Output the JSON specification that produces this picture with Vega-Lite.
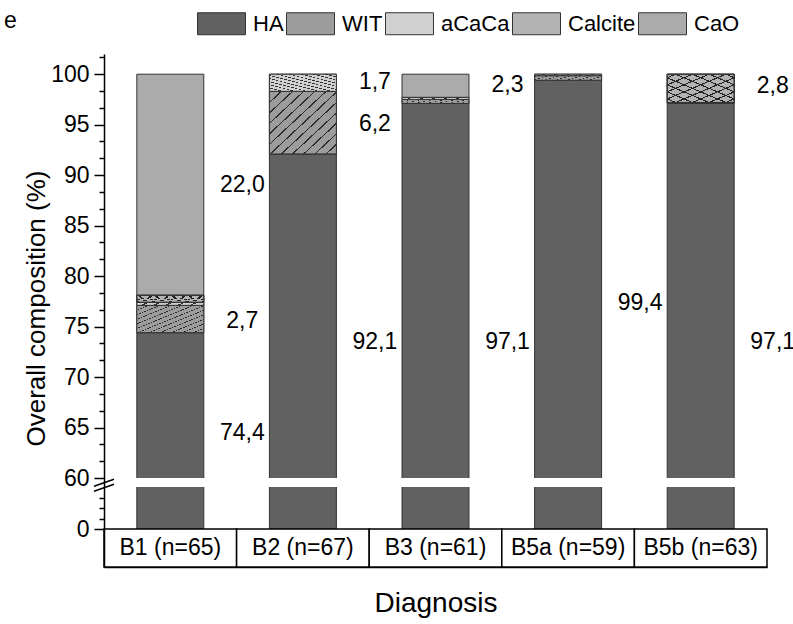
{
  "$schema": "https://vega.github.io/schema/vega-lite/v6.json",
  "width": 663,
  "height": 513,
  "autosize": {"type": "none"},
  "padding": {"left": 104, "top": 54, "right": 26, "bottom": 57},
  "title": {"text": "e", "anchor": "start", "frame": "group", "fontSize": 23, "fontWeight": "normal", "font": "Liberation Sans", "color": "black", "dx": -100, "dy": 34, "offset": 0},
  "config": {
    "font": "Liberation Sans",
    "view": {"stroke": null},
    "axis": {"grid": false, "labelOverlap": false, "labelFont": "Liberation Sans", "titleFont": "Liberation Sans", "labelColor": "black", "titleColor": "black", "domainColor": "black", "tickColor": "black"}
  },
  "datasets": {
    "comp": [
      {"Diagnosis": "B1 (n=65)", "phase": "HA", "k": 1, "value": 74.4},
      {"Diagnosis": "B1 (n=65)", "phase": "WIT", "k": 2, "value": 2.7},
      {"Diagnosis": "B1 (n=65)", "phase": "aCaCa", "k": 3, "value": 0.3},
      {"Diagnosis": "B1 (n=65)", "phase": "Calcite", "k": 4, "value": 0.7},
      {"Diagnosis": "B1 (n=65)", "phase": "CaO", "k": 5, "value": 21.9},
      {"Diagnosis": "B2 (n=67)", "phase": "HA", "k": 1, "value": 92.1},
      {"Diagnosis": "B2 (n=67)", "phase": "WIT", "k": 2, "value": 6.2},
      {"Diagnosis": "B2 (n=67)", "phase": "aCaCa", "k": 3, "value": 1.7},
      {"Diagnosis": "B3 (n=61)", "phase": "HA", "k": 1, "value": 97.1},
      {"Diagnosis": "B3 (n=61)", "phase": "WIT", "k": 2, "value": 0.4},
      {"Diagnosis": "B3 (n=61)", "phase": "aCaCa", "k": 3, "value": 0.2},
      {"Diagnosis": "B3 (n=61)", "phase": "CaO", "k": 5, "value": 2.3},
      {"Diagnosis": "B5a (n=59)", "phase": "HA", "k": 1, "value": 99.4},
      {"Diagnosis": "B5a (n=59)", "phase": "WIT", "k": 2, "value": 0.45},
      {"Diagnosis": "B5a (n=59)", "phase": "aCaCa", "k": 3, "value": 0.15},
      {"Diagnosis": "B5b (n=63)", "phase": "HA", "k": 1, "value": 97.1},
      {"Diagnosis": "B5b (n=63)", "phase": "WIT", "k": 2, "value": 0.1},
      {"Diagnosis": "B5b (n=63)", "phase": "Calcite", "k": 4, "value": 2.8}
    ],
    "labels": [
      {"Diagnosis": "B1 (n=65)", "label": "74,4", "ly": 64.5},
      {"Diagnosis": "B1 (n=65)", "label": "2,7", "ly": 75.6},
      {"Diagnosis": "B1 (n=65)", "label": "22,0", "ly": 89.0},
      {"Diagnosis": "B2 (n=67)", "label": "92,1", "ly": 73.5},
      {"Diagnosis": "B2 (n=67)", "label": "6,2", "ly": 95.1},
      {"Diagnosis": "B2 (n=67)", "label": "1,7", "ly": 99.2},
      {"Diagnosis": "B3 (n=61)", "label": "97,1", "ly": 73.5},
      {"Diagnosis": "B3 (n=61)", "label": "2,3", "ly": 98.9},
      {"Diagnosis": "B5a (n=59)", "label": "99,4", "ly": 77.3},
      {"Diagnosis": "B5b (n=63)", "label": "97,1", "ly": 73.5},
      {"Diagnosis": "B5b (n=63)", "label": "2,8", "ly": 98.8}
    ],
    "cats": [
      {"Diagnosis": "B1 (n=65)"},
      {"Diagnosis": "B2 (n=67)"},
      {"Diagnosis": "B3 (n=61)"},
      {"Diagnosis": "B5a (n=59)"},
      {"Diagnosis": "B5b (n=63)"}
    ]
  },
  "layer": [
    {
      "data": {"name": "comp"},
      "mark": {"type": "bar", "width": {"band": 0.505}, "stroke": "#333333", "strokeWidth": 1},
      "encoding": {
        "x": {
          "field": "Diagnosis", "type": "nominal", "sort": null,
          "scale": {"paddingInner": 0, "paddingOuter": 0},
          "axis": {"title": "Diagnosis", "labels": false, "ticks": false, "domainWidth": 1.5, "titleFontSize": 28, "titleFontWeight": "normal", "titlePadding": 22}
        },
        "y": {
          "field": "value", "type": "quantitative", "stack": "zero",
          "scale": {"domain": [-10, 0, 40, 60, 102], "range": [513, 475, 433, 424, 0], "nice": false, "zero": false},
          "axis": {
            "title": "Overall composition (%)",
            "titleFontSize": 26, "titleFontWeight": "normal", "titlePadding": 1, "titleY": 254,
            "tickCount": 100,
            "values": [0, 10, 20, 30, 60, 61.667, 63.333, 65, 66.667, 68.333, 70, 71.667, 73.333, 75, 76.667, 78.333, 80, 81.667, 83.333, 85, 86.667, 88.333, 90, 91.667, 93.333, 95, 96.667, 98.333, 100, 101.667],
            "labelExpr": "(datum.value === 0 || datum.value >= 60) && abs(datum.value/5 - round(datum.value/5)) < 0.01 ? format(datum.value, 'd') : ''",
            "labelOverlap": false,
            "tickSize": {"condition": {"test": "(datum.value === 0 || datum.value >= 60) && abs(datum.value/5 - round(datum.value/5)) < 0.01", "value": 10}, "value": 5},
            "labelFontSize": 23, "labelPadding": 5, "domainWidth": 1.5, "tickWidth": 1.5, "zindex": 1
          }
        },
        "color": {
          "field": "phase", "type": "nominal",
          "scale": {"domain": ["HA", "WIT", "aCaCa", "Calcite", "CaO"], "range": ["#616161", "#9c9c9c", "#d0d0d0", "#b3b3b3", "#ababab"]},
          "legend": {
            "orient": "none", "legendX": 93, "legendY": -55, "direction": "horizontal", "title": null,
            "symbolType": "M-1,-0.458H1V0.458H-1Z", "symbolSize": 2304, "symbolStrokeColor": "#333333", "symbolStrokeWidth": 1, "symbolOpacity": 1,
            "labelFontSize": 22, "labelFont": "Liberation Sans", "labelColor": "black", "labelOffset": 7, "columnPadding": 0
          }
        },
        "order": {"field": "k", "type": "quantitative"}
      }
    },
    {
      "data": {"name": "comp"},
      "transform": [
        {"stack": "value", "groupby": ["Diagnosis"], "sort": [{"field": "k", "order": "ascending"}], "as": ["y0", "y1"]},
        {"filter": "datum.phase === 'WIT'"}
      ],
      "mark": {"type": "bar", "width": {"band": 0.505}, "stroke": "#333333", "strokeWidth": 1,
        "fill": {"gradient": "linear", "x1": 0, "y1": 0, "x2": 1, "y2": 1, "stops": [
          {"offset": 0, "color": "#2a2a2a"}, {"offset": 0.012, "color": "#2a2a2a"}, {"offset": 0.012, "color": "#9c9c9c"}, {"offset": 0.0833, "color": "#9c9c9c"},
          {"offset": 0.0833, "color": "#2a2a2a"}, {"offset": 0.0953, "color": "#2a2a2a"}, {"offset": 0.0953, "color": "#9c9c9c"}, {"offset": 0.1667, "color": "#9c9c9c"},
          {"offset": 0.1667, "color": "#2a2a2a"}, {"offset": 0.1787, "color": "#2a2a2a"}, {"offset": 0.1787, "color": "#9c9c9c"}, {"offset": 0.25, "color": "#9c9c9c"},
          {"offset": 0.25, "color": "#2a2a2a"}, {"offset": 0.262, "color": "#2a2a2a"}, {"offset": 0.262, "color": "#9c9c9c"}, {"offset": 0.3333, "color": "#9c9c9c"},
          {"offset": 0.3333, "color": "#2a2a2a"}, {"offset": 0.3453, "color": "#2a2a2a"}, {"offset": 0.3453, "color": "#9c9c9c"}, {"offset": 0.4167, "color": "#9c9c9c"},
          {"offset": 0.4167, "color": "#2a2a2a"}, {"offset": 0.4287, "color": "#2a2a2a"}, {"offset": 0.4287, "color": "#9c9c9c"}, {"offset": 0.5, "color": "#9c9c9c"},
          {"offset": 0.5, "color": "#2a2a2a"}, {"offset": 0.512, "color": "#2a2a2a"}, {"offset": 0.512, "color": "#9c9c9c"}, {"offset": 0.5833, "color": "#9c9c9c"},
          {"offset": 0.5833, "color": "#2a2a2a"}, {"offset": 0.5953, "color": "#2a2a2a"}, {"offset": 0.5953, "color": "#9c9c9c"}, {"offset": 0.6667, "color": "#9c9c9c"},
          {"offset": 0.6667, "color": "#2a2a2a"}, {"offset": 0.6787, "color": "#2a2a2a"}, {"offset": 0.6787, "color": "#9c9c9c"}, {"offset": 0.75, "color": "#9c9c9c"},
          {"offset": 0.75, "color": "#2a2a2a"}, {"offset": 0.762, "color": "#2a2a2a"}, {"offset": 0.762, "color": "#9c9c9c"}, {"offset": 0.8333, "color": "#9c9c9c"},
          {"offset": 0.8333, "color": "#2a2a2a"}, {"offset": 0.8453, "color": "#2a2a2a"}, {"offset": 0.8453, "color": "#9c9c9c"}, {"offset": 0.9167, "color": "#9c9c9c"},
          {"offset": 0.9167, "color": "#2a2a2a"}, {"offset": 0.9287, "color": "#2a2a2a"}, {"offset": 0.9287, "color": "#9c9c9c"}, {"offset": 1, "color": "#9c9c9c"}
        ]}},
      "encoding": {
        "x": {"field": "Diagnosis", "type": "nominal", "sort": null},
        "y": {"field": "y0", "type": "quantitative"},
        "y2": {"field": "y1"}
      }
    },
    {
      "data": {"name": "comp"},
      "transform": [
        {"stack": "value", "groupby": ["Diagnosis"], "sort": [{"field": "k", "order": "ascending"}], "as": ["y0", "y1"]},
        {"filter": "datum.phase === 'aCaCa'"}
      ],
      "mark": {"type": "bar", "width": {"band": 0.505}, "stroke": "#333333", "strokeWidth": 1,
        "fill": {"gradient": "linear", "x1": 0, "y1": 1, "x2": 1, "y2": 0, "stops": [
          {"offset": 0, "color": "#333333"}, {"offset": 0.02, "color": "#333333"}, {"offset": 0.02, "color": "#d0d0d0"}, {"offset": 0.0909, "color": "#d0d0d0"},
          {"offset": 0.0909, "color": "#333333"}, {"offset": 0.1109, "color": "#333333"}, {"offset": 0.1109, "color": "#d0d0d0"}, {"offset": 0.1818, "color": "#d0d0d0"},
          {"offset": 0.1818, "color": "#333333"}, {"offset": 0.2018, "color": "#333333"}, {"offset": 0.2018, "color": "#d0d0d0"}, {"offset": 0.2727, "color": "#d0d0d0"},
          {"offset": 0.2727, "color": "#333333"}, {"offset": 0.2927, "color": "#333333"}, {"offset": 0.2927, "color": "#d0d0d0"}, {"offset": 0.3636, "color": "#d0d0d0"},
          {"offset": 0.3636, "color": "#333333"}, {"offset": 0.3836, "color": "#333333"}, {"offset": 0.3836, "color": "#d0d0d0"}, {"offset": 0.4545, "color": "#d0d0d0"},
          {"offset": 0.4545, "color": "#333333"}, {"offset": 0.4745, "color": "#333333"}, {"offset": 0.4745, "color": "#d0d0d0"}, {"offset": 0.5455, "color": "#d0d0d0"},
          {"offset": 0.5455, "color": "#333333"}, {"offset": 0.5655, "color": "#333333"}, {"offset": 0.5655, "color": "#d0d0d0"}, {"offset": 0.6364, "color": "#d0d0d0"},
          {"offset": 0.6364, "color": "#333333"}, {"offset": 0.6564, "color": "#333333"}, {"offset": 0.6564, "color": "#d0d0d0"}, {"offset": 0.7273, "color": "#d0d0d0"},
          {"offset": 0.7273, "color": "#333333"}, {"offset": 0.7473, "color": "#333333"}, {"offset": 0.7473, "color": "#d0d0d0"}, {"offset": 0.8182, "color": "#d0d0d0"},
          {"offset": 0.8182, "color": "#333333"}, {"offset": 0.8382, "color": "#333333"}, {"offset": 0.8382, "color": "#d0d0d0"}, {"offset": 0.9091, "color": "#d0d0d0"},
          {"offset": 0.9091, "color": "#333333"}, {"offset": 0.9291, "color": "#333333"}, {"offset": 0.9291, "color": "#d0d0d0"}, {"offset": 1, "color": "#d0d0d0"}
        ]}},
      "encoding": {
        "x": {"field": "Diagnosis", "type": "nominal", "sort": null},
        "y": {"field": "y0", "type": "quantitative"},
        "y2": {"field": "y1"}
      }
    },
    {
      "data": {"name": "comp"},
      "transform": [
        {"stack": "value", "groupby": ["Diagnosis"], "sort": [{"field": "k", "order": "ascending"}], "as": ["y0", "y1"]},
        {"filter": "datum.phase === 'Calcite'"}
      ],
      "mark": {"type": "bar", "width": {"band": 0.505}, "stroke": "#333333", "strokeWidth": 1,
        "fill": {"gradient": "linear", "x1": 0, "y1": 1, "x2": 1, "y2": 0, "stops": [
          {"offset": 0, "color": "#b3b3b3"}, {"offset": 0.0525, "color": "#b3b3b3"}, {"offset": 0.0525, "color": "#222222"}, {"offset": 0.0725, "color": "#222222"}, {"offset": 0.0725, "color": "#b3b3b3"},
          {"offset": 0.1775, "color": "#b3b3b3"}, {"offset": 0.1775, "color": "#222222"}, {"offset": 0.1975, "color": "#222222"}, {"offset": 0.1975, "color": "#b3b3b3"},
          {"offset": 0.3025, "color": "#b3b3b3"}, {"offset": 0.3025, "color": "#222222"}, {"offset": 0.3225, "color": "#222222"}, {"offset": 0.3225, "color": "#b3b3b3"},
          {"offset": 0.4275, "color": "#b3b3b3"}, {"offset": 0.4275, "color": "#222222"}, {"offset": 0.4475, "color": "#222222"}, {"offset": 0.4475, "color": "#b3b3b3"},
          {"offset": 0.5525, "color": "#b3b3b3"}, {"offset": 0.5525, "color": "#222222"}, {"offset": 0.5725, "color": "#222222"}, {"offset": 0.5725, "color": "#b3b3b3"},
          {"offset": 0.6775, "color": "#b3b3b3"}, {"offset": 0.6775, "color": "#222222"}, {"offset": 0.6975, "color": "#222222"}, {"offset": 0.6975, "color": "#b3b3b3"},
          {"offset": 0.8025, "color": "#b3b3b3"}, {"offset": 0.8025, "color": "#222222"}, {"offset": 0.8225, "color": "#222222"}, {"offset": 0.8225, "color": "#b3b3b3"},
          {"offset": 0.9275, "color": "#b3b3b3"}, {"offset": 0.9275, "color": "#222222"}, {"offset": 0.9475, "color": "#222222"}, {"offset": 0.9475, "color": "#b3b3b3"}, {"offset": 1, "color": "#b3b3b3"}
        ]}},
      "encoding": {
        "x": {"field": "Diagnosis", "type": "nominal", "sort": null},
        "y": {"field": "y0", "type": "quantitative"},
        "y2": {"field": "y1"}
      }
    },
    {
      "data": {"name": "comp"},
      "transform": [
        {"stack": "value", "groupby": ["Diagnosis"], "sort": [{"field": "k", "order": "ascending"}], "as": ["y0", "y1"]},
        {"filter": "datum.phase === 'Calcite'"}
      ],
      "mark": {"type": "bar", "width": {"band": 0.505}, "stroke": "#333333", "strokeWidth": 1,
        "fill": {"gradient": "linear", "x1": 0, "y1": 0, "x2": 1, "y2": 1, "stops": [
          {"offset": 0, "color": "rgba(0,0,0,0)"}, {"offset": 0.0525, "color": "rgba(0,0,0,0)"}, {"offset": 0.0525, "color": "#222222"}, {"offset": 0.0725, "color": "#222222"}, {"offset": 0.0725, "color": "rgba(0,0,0,0)"},
          {"offset": 0.1775, "color": "rgba(0,0,0,0)"}, {"offset": 0.1775, "color": "#222222"}, {"offset": 0.1975, "color": "#222222"}, {"offset": 0.1975, "color": "rgba(0,0,0,0)"},
          {"offset": 0.3025, "color": "rgba(0,0,0,0)"}, {"offset": 0.3025, "color": "#222222"}, {"offset": 0.3225, "color": "#222222"}, {"offset": 0.3225, "color": "rgba(0,0,0,0)"},
          {"offset": 0.4275, "color": "rgba(0,0,0,0)"}, {"offset": 0.4275, "color": "#222222"}, {"offset": 0.4475, "color": "#222222"}, {"offset": 0.4475, "color": "rgba(0,0,0,0)"},
          {"offset": 0.5525, "color": "rgba(0,0,0,0)"}, {"offset": 0.5525, "color": "#222222"}, {"offset": 0.5725, "color": "#222222"}, {"offset": 0.5725, "color": "rgba(0,0,0,0)"},
          {"offset": 0.6775, "color": "rgba(0,0,0,0)"}, {"offset": 0.6775, "color": "#222222"}, {"offset": 0.6975, "color": "#222222"}, {"offset": 0.6975, "color": "rgba(0,0,0,0)"},
          {"offset": 0.8025, "color": "rgba(0,0,0,0)"}, {"offset": 0.8025, "color": "#222222"}, {"offset": 0.8225, "color": "#222222"}, {"offset": 0.8225, "color": "rgba(0,0,0,0)"},
          {"offset": 0.9275, "color": "rgba(0,0,0,0)"}, {"offset": 0.9275, "color": "#222222"}, {"offset": 0.9475, "color": "#222222"}, {"offset": 0.9475, "color": "rgba(0,0,0,0)"}, {"offset": 1, "color": "rgba(0,0,0,0)"}
        ]}},
      "encoding": {
        "x": {"field": "Diagnosis", "type": "nominal", "sort": null},
        "y": {"field": "y0", "type": "quantitative"},
        "y2": {"field": "y1"}
      }
    },
    {
      "data": {"values": [{"gap": "break"}]},
      "mark": {"type": "rect", "fill": "white"},
      "encoding": {
        "y": {"datum": 40, "type": "quantitative"},
        "y2": {"datum": 60}
      }
    },
    {
      "data": {"name": "cats"},
      "transform": [{"filter": "datum.Diagnosis === 'B1 (n=65)'"}],
      "mark": {"type": "point", "shape": "M-1,0.1L1,-0.6M-1,0.6L1,-0.1", "size": 400, "filled": false, "stroke": "black", "strokeWidth": 1.5, "opacity": 1, "xOffset": -66.3, "zindex": 2},
      "encoding": {
        "x": {"field": "Diagnosis", "type": "nominal", "sort": null},
        "y": {"datum": 44, "type": "quantitative"}
      }
    },
    {
      "data": {"name": "cats"},
      "mark": {"type": "rect", "fill": "white", "stroke": "black", "strokeWidth": 1.5},
      "encoding": {
        "x": {"field": "Diagnosis", "type": "nominal", "sort": null},
        "y": {"datum": -10, "type": "quantitative"},
        "y2": {"datum": 0}
      }
    },
    {
      "data": {"name": "cats"},
      "mark": {"type": "text", "fontSize": 23, "font": "Liberation Sans", "color": "black", "baseline": "middle"},
      "encoding": {
        "x": {"field": "Diagnosis", "type": "nominal", "sort": null},
        "y": {"datum": -5, "type": "quantitative"},
        "text": {"field": "Diagnosis"}
      }
    },
    {
      "data": {"name": "labels"},
      "mark": {"type": "text", "fontSize": 23, "font": "Liberation Sans", "color": "black", "baseline": "middle", "xOffset": 72},
      "encoding": {
        "x": {"field": "Diagnosis", "type": "nominal", "sort": null},
        "y": {"field": "ly", "type": "quantitative"},
        "text": {"field": "label"}
      }
    }
  ]
}
